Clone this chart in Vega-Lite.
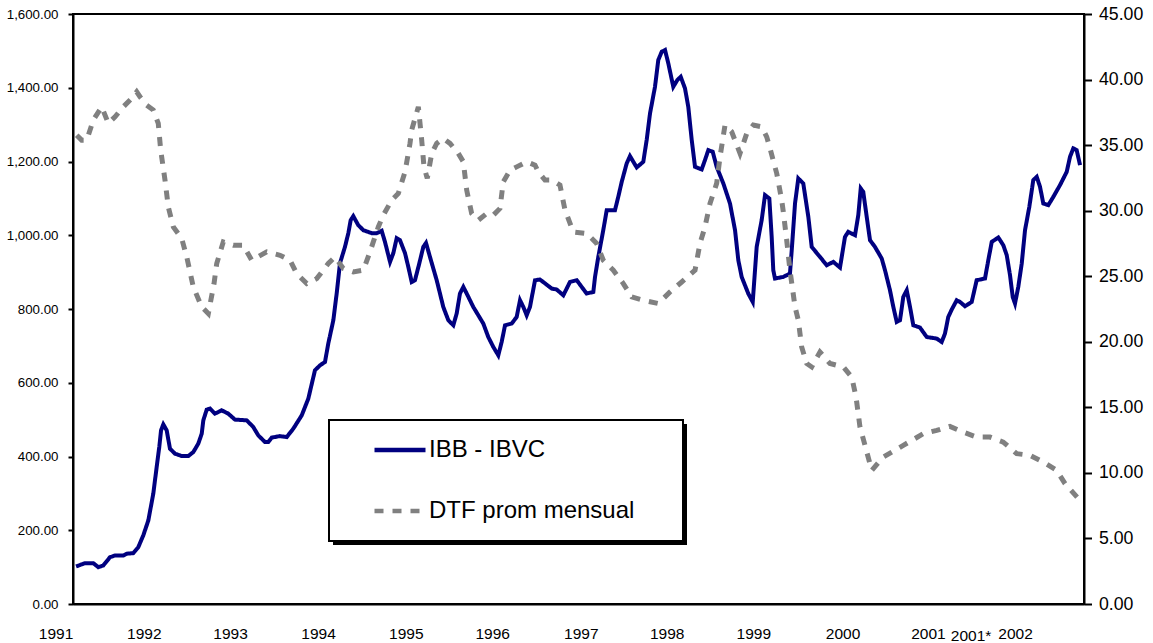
{
  "$schema": "https://vega.github.io/schema/vega-lite/v6.json",
  "width": 1011,
  "height": 590,
  "autosize": {"type": "none"},
  "padding": {"left": 73, "top": 14, "right": 69, "bottom": 39},
  "background": "white",
  "datasets": {
    "ibb": [
      {"t":1991.036,"v":101.8},{"t":1991.142,"v":110.7},{"t":1991.241,"v":110.7},{"t":1991.300,"v":99.9},{"t":1991.360,"v":104.5},
      {"t":1991.439,"v":127.0},{"t":1991.499,"v":131.6},{"t":1991.597,"v":131.6},{"t":1991.637,"v":136.3},{"t":1991.716,"v":137.9},
      {"t":1991.775,"v":154.2},{"t":1991.834,"v":185.9},{"t":1991.894,"v":226.6},{"t":1991.953,"v":299.1},{"t":1991.993,"v":371.3},
      {"t":1992.024,"v":425.6},{"t":1992.045,"v":470.9},{"t":1992.072,"v":487.2},{"t":1992.112,"v":470.9},{"t":1992.151,"v":421.2},
      {"t":1992.211,"v":407.7},{"t":1992.290,"v":401.2},{"t":1992.369,"v":401.2},{"t":1992.428,"v":412.0},{"t":1992.487,"v":434.8},
      {"t":1992.528,"v":462.0},{"t":1992.547,"v":498.1},{"t":1992.587,"v":527.1},{"t":1992.626,"v":529.8},{"t":1992.685,"v":516.2},
      {"t":1992.765,"v":525.2},{"t":1992.843,"v":516.2},{"t":1992.923,"v":500.0},{"t":1993.062,"v":498.1},{"t":1993.140,"v":479.9},
      {"t":1993.199,"v":457.3},{"t":1993.279,"v":439.2},{"t":1993.318,"v":439.2},{"t":1993.358,"v":451.1},{"t":1993.457,"v":455.4},
      {"t":1993.537,"v":452.7},{"t":1993.615,"v":475.5},{"t":1993.715,"v":511.6},{"t":1993.793,"v":557.0},{"t":1993.872,"v":633.8},
      {"t":1993.932,"v":647.3},{"t":1993.991,"v":656.3},{"t":1994.030,"v":706.2},{"t":1994.090,"v":769.5},{"t":1994.130,"v":842.7},
      {"t":1994.169,"v":924.2},{"t":1994.228,"v":968.4},{"t":1994.268,"v":1005.6},{"t":1994.296,"v":1040.9},{"t":1994.327,"v":1051.8},
      {"t":1994.386,"v":1027.3},{"t":1994.446,"v":1013.8},{"t":1994.545,"v":1005.6},{"t":1994.605,"v":1005.6},{"t":1994.664,"v":1011.9},
      {"t":1994.703,"v":982.0},{"t":1994.763,"v":927.7},{"t":1994.802,"v":951.3},{"t":1994.842,"v":992.0},{"t":1994.881,"v":986.6},
      {"t":1994.941,"v":951.3},{"t":1994.980,"v":914.1},{"t":1995.020,"v":873.4},{"t":1995.059,"v":878.0},{"t":1995.110,"v":923.4},
      {"t":1995.158,"v":968.4},{"t":1995.190,"v":979.3},{"t":1995.237,"v":941.3},{"t":1995.317,"v":878.0},{"t":1995.395,"v":805.6},
      {"t":1995.455,"v":769.5},{"t":1995.514,"v":755.9},{"t":1995.554,"v":787.7},{"t":1995.593,"v":841.9},{"t":1995.633,"v":859.9},
      {"t":1995.673,"v":841.9},{"t":1995.751,"v":805.6},{"t":1995.870,"v":760.5},{"t":1995.929,"v":724.1},{"t":1995.989,"v":697.0},
      {"t":1996.048,"v":674.5},{"t":1996.088,"v":710.6},{"t":1996.128,"v":755.9},{"t":1996.207,"v":760.5},{"t":1996.266,"v":778.4},
      {"t":1996.306,"v":823.8},{"t":1996.345,"v":805.6},{"t":1996.385,"v":783.0},{"t":1996.424,"v":805.6},{"t":1996.484,"v":878.0},
      {"t":1996.543,"v":879.9},{"t":1996.682,"v":855.5},{"t":1996.741,"v":852.8},{"t":1996.820,"v":837.3},{"t":1996.899,"v":873.4},
      {"t":1996.979,"v":878.0},{"t":1997.038,"v":859.9},{"t":1997.097,"v":841.9},{"t":1997.176,"v":846.3},{"t":1997.196,"v":887.0},
      {"t":1997.235,"v":941.3},{"t":1997.294,"v":1013.8},{"t":1997.335,"v":1068.0},{"t":1997.433,"v":1068.0},{"t":1997.472,"v":1104.1},
      {"t":1997.513,"v":1144.8},{"t":1997.572,"v":1194.8},{"t":1997.611,"v":1214.6},{"t":1997.691,"v":1183.9},{"t":1997.769,"v":1199.1},
      {"t":1997.809,"v":1258.0},{"t":1997.849,"v":1330.5},{"t":1997.908,"v":1402.7},{"t":1997.947,"v":1475.2},{"t":1997.988,"v":1497.7},
      {"t":1998.027,"v":1502.3},{"t":1998.066,"v":1466.2},{"t":1998.125,"v":1402.7},{"t":1998.173,"v":1420.9},{"t":1998.213,"v":1429.8},
      {"t":1998.264,"v":1398.4},{"t":1998.303,"v":1348.4},{"t":1998.344,"v":1258.0},{"t":1998.383,"v":1185.6},{"t":1998.462,"v":1178.5},
      {"t":1998.501,"v":1203.7},{"t":1998.541,"v":1230.9},{"t":1998.593,"v":1226.3},{"t":1998.640,"v":1185.6},{"t":1998.719,"v":1140.5},
      {"t":1998.798,"v":1086.2},{"t":1998.858,"v":1013.8},{"t":1998.897,"v":932.3},{"t":1998.937,"v":887.0},{"t":1999.015,"v":841.9},
      {"t":1999.068,"v":819.1},{"t":1999.115,"v":968.4},{"t":1999.174,"v":1040.9},{"t":1999.214,"v":1108.7},{"t":1999.265,"v":1099.8},
      {"t":1999.293,"v":995.6},{"t":1999.312,"v":905.2},{"t":1999.332,"v":882.7},{"t":1999.431,"v":887.0},{"t":1999.510,"v":896.2},
      {"t":1999.531,"v":959.5},{"t":1999.570,"v":1086.2},{"t":1999.609,"v":1154.1},{"t":1999.668,"v":1140.5},{"t":1999.728,"v":1049.8},
      {"t":1999.768,"v":968.4},{"t":1999.866,"v":941.3},{"t":1999.946,"v":918.8},{"t":2000.024,"v":927.7},{"t":2000.104,"v":912.5},
      {"t":2000.163,"v":995.6},{"t":2000.202,"v":1009.1},{"t":2000.282,"v":1000.2},{"t":2000.321,"v":1054.5},{"t":2000.350,"v":1126.9},
      {"t":2000.380,"v":1117.7},{"t":2000.421,"v":1049.8},{"t":2000.460,"v":986.6},{"t":2000.519,"v":968.4},{"t":2000.599,"v":936.9},
      {"t":2000.638,"v":905.2},{"t":2000.697,"v":850.9},{"t":2000.737,"v":805.6},{"t":2000.777,"v":764.9},{"t":2000.816,"v":769.5},
      {"t":2000.855,"v":832.7},{"t":2000.896,"v":850.9},{"t":2000.935,"v":805.6},{"t":2000.974,"v":755.9},{"t":2001.053,"v":749.7},
      {"t":2001.133,"v":724.1},{"t":2001.252,"v":719.8},{"t":2001.311,"v":710.6},{"t":2001.350,"v":733.4},{"t":2001.389,"v":778.4},
      {"t":2001.430,"v":798.5},{"t":2001.489,"v":823.8},{"t":2001.528,"v":819.1},{"t":2001.588,"v":807.5},{"t":2001.667,"v":819.1},
      {"t":2001.726,"v":878.0},{"t":2001.825,"v":882.7},{"t":2001.864,"v":932.3},{"t":2001.905,"v":982.0},{"t":2001.983,"v":993.9},
      {"t":2002.042,"v":973.0},{"t":2002.083,"v":945.9},{"t":2002.122,"v":891.6},{"t":2002.154,"v":832.7},{"t":2002.181,"v":814.8},
      {"t":2002.220,"v":859.9},{"t":2002.261,"v":923.4},{"t":2002.300,"v":1013.8},{"t":2002.351,"v":1077.0},{"t":2002.398,"v":1149.5},
      {"t":2002.439,"v":1158.4},{"t":2002.478,"v":1131.3},{"t":2002.517,"v":1086.2},{"t":2002.576,"v":1081.6},{"t":2002.636,"v":1104.1},
      {"t":2002.715,"v":1135.9},{"t":2002.795,"v":1172.0},{"t":2002.834,"v":1212.7},{"t":2002.873,"v":1235.5},{"t":2002.913,"v":1230.9},
      {"t":2002.953,"v":1190.2}
    ],
    "dtf": [
      {"t":1991.044,"d":35.76},{"t":1991.103,"d":35.38},{"t":1991.163,"d":35.38},{"t":1991.241,"d":36.91},{"t":1991.341,"d":37.92},
      {"t":1991.419,"d":36.66},{"t":1991.499,"d":37.16},{"t":1991.597,"d":37.92},{"t":1991.697,"d":38.57},{"t":1991.756,"d":39.07},
      {"t":1991.795,"d":38.69},{"t":1991.875,"d":38.05},{"t":1991.953,"d":37.67},{"t":1992.012,"d":36.66},{"t":1992.041,"d":34.62},
      {"t":1992.092,"d":32.33},{"t":1992.131,"d":30.29},{"t":1992.191,"d":28.76},{"t":1992.290,"d":27.88},{"t":1992.350,"d":26.47},
      {"t":1992.428,"d":24.18},{"t":1992.528,"d":22.66},{"t":1992.606,"d":22.15},{"t":1992.674,"d":24.44},{"t":1992.706,"d":25.97},
      {"t":1992.784,"d":27.62},{"t":1992.903,"d":27.37},{"t":1993.021,"d":27.37},{"t":1993.121,"d":26.22},{"t":1993.299,"d":26.86},
      {"t":1993.457,"d":26.60},{"t":1993.576,"d":26.22},{"t":1993.655,"d":25.21},{"t":1993.774,"d":24.44},{"t":1993.893,"d":24.82},
      {"t":1994.030,"d":25.97},{"t":1994.110,"d":26.47},{"t":1994.208,"d":25.59},{"t":1994.327,"d":25.33},{"t":1994.446,"d":25.46},
      {"t":1994.525,"d":26.86},{"t":1994.624,"d":28.76},{"t":1994.683,"d":29.66},{"t":1994.783,"d":30.80},{"t":1994.861,"d":31.31},
      {"t":1994.941,"d":32.96},{"t":1995.000,"d":35.13},{"t":1995.020,"d":36.15},{"t":1995.099,"d":37.92},{"t":1995.139,"d":35.38},
      {"t":1995.166,"d":33.34},{"t":1995.205,"d":32.46},{"t":1995.258,"d":34.37},{"t":1995.317,"d":35.13},{"t":1995.395,"d":35.51},
      {"t":1995.475,"d":35.13},{"t":1995.573,"d":34.37},{"t":1995.633,"d":33.73},{"t":1995.673,"d":31.56},{"t":1995.732,"d":29.79},
      {"t":1995.811,"d":29.27},{"t":1995.910,"d":29.79},{"t":1995.989,"d":29.66},{"t":1996.068,"d":30.17},{"t":1996.107,"d":32.20},
      {"t":1996.187,"d":33.09},{"t":1996.266,"d":33.34},{"t":1996.385,"d":33.73},{"t":1996.484,"d":33.47},{"t":1996.523,"d":32.96},
      {"t":1996.602,"d":32.33},{"t":1996.682,"d":32.33},{"t":1996.780,"d":31.95},{"t":1996.840,"d":30.04},{"t":1996.938,"d":28.38},
      {"t":1997.097,"d":28.26},{"t":1997.216,"d":27.50},{"t":1997.294,"d":26.22},{"t":1997.413,"d":25.46},{"t":1997.532,"d":24.44},
      {"t":1997.632,"d":23.42},{"t":1997.769,"d":23.17},{"t":1997.947,"d":22.92},{"t":1998.086,"d":23.80},{"t":1998.225,"d":24.56},
      {"t":1998.383,"d":25.46},{"t":1998.442,"d":27.50},{"t":1998.501,"d":28.76},{"t":1998.561,"d":30.55},{"t":1998.640,"d":32.08},
      {"t":1998.680,"d":34.11},{"t":1998.739,"d":36.53},{"t":1998.818,"d":36.02},{"t":1998.917,"d":34.37},{"t":1998.997,"d":35.89},
      {"t":1999.075,"d":36.53},{"t":1999.174,"d":36.40},{"t":1999.234,"d":35.63},{"t":1999.273,"d":34.75},{"t":1999.353,"d":32.84},
      {"t":1999.412,"d":30.80},{"t":1999.431,"d":29.91},{"t":1999.471,"d":27.75},{"t":1999.510,"d":25.46},{"t":1999.570,"d":22.66},
      {"t":1999.609,"d":21.64},{"t":1999.649,"d":19.60},{"t":1999.709,"d":18.34},{"t":1999.768,"d":18.08},{"t":1999.866,"d":19.22},
      {"t":1999.985,"d":18.34},{"t":2000.143,"d":18.08},{"t":2000.243,"d":17.31},{"t":2000.294,"d":15.79},{"t":2000.341,"d":13.50},
      {"t":2000.401,"d":12.10},{"t":2000.480,"d":10.19},{"t":2000.618,"d":11.21},{"t":2000.855,"d":12.10},{"t":2001.093,"d":12.99},
      {"t":2001.252,"d":13.24},{"t":2001.409,"d":13.55},{"t":2001.567,"d":13.11},{"t":2001.726,"d":12.73},{"t":2001.884,"d":12.73},
      {"t":2002.042,"d":12.35},{"t":2002.201,"d":11.47},{"t":2002.359,"d":11.34},{"t":2002.517,"d":10.82},{"t":2002.676,"d":10.19},
      {"t":2002.775,"d":9.18},{"t":2002.953,"d":7.90}
    ]
  },
  "encoding": {
    "x": {
      "field": "t",
      "type": "quantitative",
      "scale": {"domain": [1991, 2003], "nice": false, "zero": false},
      "axis": {
        "title": null,
        "values": [1991.0, 1991.840, 1992.864, 1993.908, 1994.950, 1995.976, 1997.027, 1998.047, 1999.075, 2000.134, 2001.148, 2001.653, 2002.181],
        "labelExpr": "datum.value > 2001.5 && datum.value < 2002 ? '2001*' : '' + floor(datum.value + 0.2)",
        "ticks": false,
        "tickSize": 0,
        "grid": false,
        "labelFlush": false,
        "labelOverlap": false,
        "labelBound": false,
        "labelFontSize": 15.5,
        "labelPadding": {"condition": {"test": "datum.value > 2001.5 && datum.value < 2002", "value": 24}, "value": 22},
        "labelOffset": {"condition": {"test": "datum.value < 1991.2", "value": -17.5}, "value": 0},
        "labelBaseline": "top",
        "domainColor": "black",
        "domainWidth": 2
      }
    }
  },
  "layer": [
    {
      "data": {"name": "ibb"},
      "mark": {"type": "line", "strokeWidth": 4, "interpolate": "linear"},
      "encoding": {
        "y": {
          "field": "v",
          "type": "quantitative",
          "scale": {"domain": [0, 1600], "nice": false},
          "axis": {
            "title": null,
            "orient": "left",
            "values": [0, 200, 400, 600, 800, 1000, 1200, 1400, 1600],
            "format": ",.2f",
            "grid": false,
            "labelFontSize": 13.3,
            "labelPadding": 10,
            "tickSize": 5,
            "tickWidth": 2,
            "tickColor": "black",
            "domainColor": "black",
            "domainWidth": 2
          }
        },
        "color": {
          "datum": "IBB - IBVC",
          "type": "nominal",
          "scale": {"domain": ["IBB - IBVC", "DTF prom mensual"], "range": ["#000080", "#808080"]},
          "legend": {
            "title": null,
            "orient": "none",
            "legendX": 256,
            "legendY": 406,
            "zindex": 2,
            "fillColor": "white",
            "strokeColor": "black",
            "padding": 15,
            "clipHeight": 30,
            "rowPadding": 31,
            "symbolType": "stroke",
            "symbolSize": 2601,
            "symbolStrokeWidth": 4.5,
            "symbolOffset": 28,
            "labelOffset": 1,
            "labelFontSize": 24,
            "labelLimit": 600,
            "labelColor": "black",
            "labelExpr": "datum.label + '\u00a0\u00a0\u00a0\u00a0\u00a0\u200b'"
          }
        },
        "strokeDash": {
          "datum": "IBB - IBVC",
          "type": "nominal",
          "scale": {"domain": ["IBB - IBVC", "DTF prom mensual"], "range": [[1, 0], [9, 9]]},
          "legend": null
        }
      }
    },
    {
      "data": {"name": "dtf"},
      "mark": {"type": "line", "strokeWidth": 5, "interpolate": "linear"},
      "encoding": {
        "y": {
          "field": "d",
          "type": "quantitative",
          "scale": {"domain": [0, 45], "nice": false},
          "axis": {
            "title": null,
            "orient": "right",
            "values": [0, 5, 10, 15, 20, 25, 30, 35, 40, 45],
            "format": ".2f",
            "grid": false,
            "labelFontSize": 17.7,
            "labelPadding": 7,
            "tickSize": 7.5,
            "tickWidth": 2,
            "tickColor": "black",
            "domainColor": "black",
            "domainWidth": 2
          }
        },
        "color": {"datum": "DTF prom mensual", "type": "nominal"},
        "strokeDash": {"datum": "DTF prom mensual", "type": "nominal"}
      }
    },
    {
      "data": {"values": []},
      "mark": {"type": "point", "opacity": 1, "filled": true},
      "encoding": {
        "fill": {
          "datum": 0,
          "type": "quantitative",
          "scale": {"domain": [0, 1], "range": ["#000000", "#000000"]},
          "legend": {
            "title": null,
            "orient": "none",
            "direction": "horizontal",
            "legendX": 260,
            "legendY": 410,
            "zindex": 1,
            "padding": 0,
            "values": [],
            "gradientLength": 354,
            "gradientThickness": 121,
            "gradientStrokeWidth": 0,
            "gradientOpacity": 1
          }
        }
      }
    }
  ],
  "resolve": {"scale": {"y": "independent"}},
  "config": {
    "font": "Liberation Sans",
    "view": {"stroke": "black", "strokeWidth": 2},
    "axis": {"labelColor": "black", "labelFont": "Liberation Sans"},
    "legend": {"labelFont": "Liberation Sans", "strokeWidth": 2}
  }
}
